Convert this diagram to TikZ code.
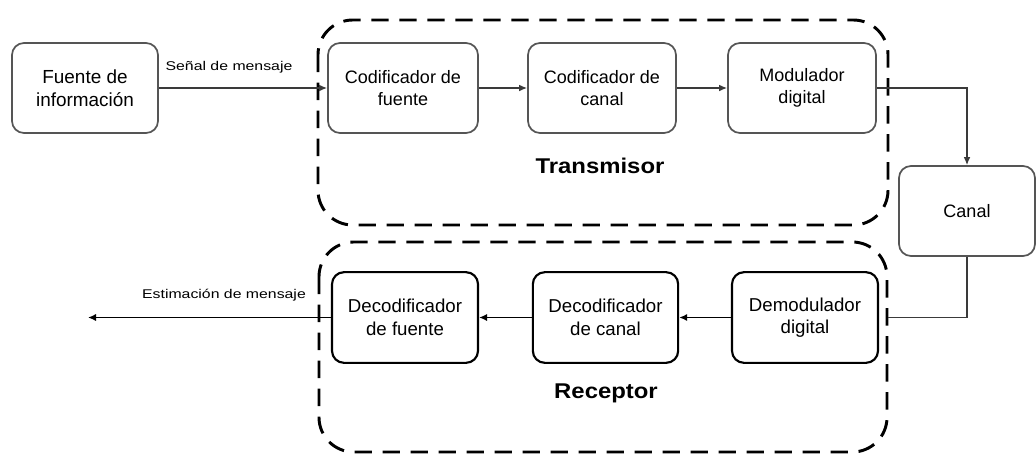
\documentclass[tikz,border=0pt]{standalone}
\usepackage{fontspec}
\setmainfont{Liberation Sans}
\newfontfamily\lblfont[FakeStretch=1.25]{Liberation Sans}
\newfontfamily\bigfont[FakeStretch=1.12]{Liberation Sans}
\usetikzlibrary{arrows.meta}
\definecolor{boxgray}{HTML}{555555}
\definecolor{linegray}{HTML}{3A3A3A}
\begin{document}
\begin{tikzpicture}[x=0.75pt,y=-0.75pt,
  blk/.style={draw=boxgray,line width=1.3pt,rounded corners=9pt,align=center,
    font=\fontsize{13.5}{16.5}\selectfont,inner sep=0pt},
  rblk/.style={draw=black,line width=1.6pt,rounded corners=9pt,align=center,
    font=\fontsize{14}{17}\selectfont,inner sep=0pt},
  grp/.style={draw=black,line width=2.2pt,dash pattern=on 13pt off 8pt,rounded corners=26pt},
  garr/.style={draw=linegray,line width=1pt,-{Latex[length=6pt,width=5pt]}},
  gline/.style={draw=linegray,line width=1pt},
  rarr/.style={draw=black,line width=1.4pt,-{Latex[length=6pt,width=5.5pt]}},
  lbl/.style={font=\lblfont\fontsize{9.5}{11}\selectfont,inner sep=0pt},
  grplbl/.style={font=\bigfont\bfseries\fontsize{16}{19}\selectfont,inner sep=0pt}]
\useasboundingbox (0,0) rectangle (1036,455);
% group frames
\draw[grp] (318,20) rectangle (888,225);
\draw[grp] (319,242) rectangle (887,452);
\node[grplbl] (tx) at (600,166) {Transmisor};
\node[grplbl] (rx) at (606,393) {Receptor};
% blocks
\node[blk,font=\fontsize{14.2}{17.5}\selectfont,minimum width=109.5pt,minimum height=67.5pt] (fuente) at (85,88) {Fuente de\\información};
\node[blk,minimum width=112.5pt,minimum height=67.5pt] (codf) at (403,88) {Codificador de\\fuente};
\node[blk,minimum width=111pt,minimum height=67.5pt] (codc) at (602,88) {Codificador de\\canal};
\node[blk,minimum width=111pt,minimum height=67.5pt] (mod) at (802,88) {Modulador\\digital};
\node[blk,minimum width=102pt,minimum height=67.5pt] (canal) at (967,211) {Canal};
\node[rblk,minimum width=109.5pt,minimum height=68pt] (dfu) at (405,317.5) {Decodificador\\de fuente};
\node[rblk,minimum width=109pt,minimum height=68pt] (dca) at (605.5,317.5) {Decodificador\\de canal};
\node[rblk,minimum width=109.5pt,minimum height=68pt] (dem) at (805,317.5) {Demodulador\\digital};
% connectors
\draw[garr] (fuente.east) -- (codf.west);
\node[lbl] (senal) at (229,67) {Señal de mensaje};
\draw[garr] (codf.east) -- (codc.west);
\draw[garr] (codc.east) -- (mod.west);
\draw[garr] (mod.east) -| (canal.north);
\coordinate (rxin) at (888,317.5);
\draw[gline] (canal.south) |- (rxin);
\draw[rarr] (dem.west) -- (dca.east);
\draw[rarr] (dca.west) -- (dfu.east);
\coordinate (out) at (88,317.5);
\draw[rarr] (dfu.west) -- (out);
\node[lbl] (est) at (224,295) {Estimación de mensaje};
\end{tikzpicture}
\end{document}
